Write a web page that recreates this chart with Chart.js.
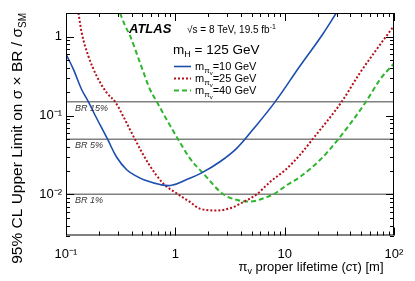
<!DOCTYPE html>
<html>
<head>
<meta charset="utf-8">
<title>pi_v lifetime limits</title>
<script src="https://cdn.jsdelivr.net/npm/chart.js@4.4.1/dist/chart.umd.min.js"></script>
<style>
  html, body { margin: 0; padding: 0; background: #fff; }
</style>
</head>
<body>
<canvas id="myChart" width="415" height="281"></canvas>
<script>
// values: pi_v proper lifetime [m] -> 95% CL limit on sigma x BR / sigma_SM
const lifetime10 = [0.1, 0.117, 0.139, 0.16, 0.185, 0.24, 0.291, 0.359, 0.44, 0.528, 0.724, 0.927, 1.27, 1.74, 2.56, 3.64, 5.1, 8.2, 13.8, 21.8, 30];
const limit10 = [0.60, 0.385, 0.214, 0.15, 0.10, 0.05, 0.0295, 0.0205, 0.0170, 0.0151, 0.0133, 0.0130, 0.0154, 0.0187, 0.0259, 0.0383, 0.0658, 0.15, 0.425, 1.03, 2.05];

const lifetime25 = [0.130, 0.139, 0.160, 0.191, 0.236, 0.281, 0.334, 0.427, 0.566, 0.776, 1.06, 1.36, 1.68, 2.39, 3.28, 4.19, 5.55, 7.35, 10.1, 13.8, 18.0, 33.3, 48.9, 69.5, 100];
const limit25 = [2.0, 1.13, 0.57, 0.316, 0.194, 0.15, 0.0975, 0.05, 0.0247, 0.0137, 0.0100, 0.0080, 0.00656, 0.00624, 0.00676, 0.0080, 0.0100, 0.01436, 0.0203, 0.0316, 0.05, 0.15, 0.349, 0.693, 1.38];

const lifetime40 = [0.312, 0.347, 0.385, 0.475, 0.587, 0.676, 0.834, 1.06, 1.36, 1.80, 2.75, 3.77, 4.82, 6.85, 7.9, 10.4, 13.8, 21.0, 30.9, 55.5, 74.5, 100];
const limit40 = [2.0, 1.38, 1.03, 0.469, 0.214, 0.15, 0.0884, 0.05, 0.0286, 0.0184, 0.0100, 0.0084, 0.0081, 0.0092, 0.0100, 0.0130, 0.0166, 0.0272, 0.05, 0.15, 0.287, 0.46];

const massLabels = ['10', '25', '40'];
const brLevels = [0.15, 0.05, 0.01];
const brLabels = ['BR 15%', 'BR 5%', 'BR 1%'];

const xRange = [0.1, 100];
const yRange = [0.003, 2];
const xMajorTicks = [0.1, 1, 10, 100];
const xTickLabels = ['10⁻¹', '1', '10', '10²'];
const yMajorTicks = [0.01, 0.1, 1];
const yTickLabels = ['10⁻²', '10⁻¹', '1'];

const FONT = '"Liberation Sans", Arial, Helvetica, sans-serif';

const toPoints = (xs, ys) => xs.map((x, i) => ({ x: x, y: ys[i] }));
const isDecade = (v) => Math.abs(Math.log10(v) - Math.round(Math.log10(v))) < 1e-6;

const labelFor = (majors, labels) => (value) => {
  const i = majors.findIndex(m => Math.abs(Math.log10(m) - Math.log10(value)) < 1e-6);
  return i >= 0 ? labels[i] : '';
};

// 1..9 x 10^n ticks inside the range
const logTicks = (scale) => {
  const out = [];
  for (let e = Math.floor(Math.log10(scale.min)); e <= Math.ceil(Math.log10(scale.max)); e++) {
    for (let k = 1; k < 10; k++) {
      const v = +(k * Math.pow(10, e)).toPrecision(6);
      if (v >= scale.min * 0.9999 && v <= scale.max * 1.0001) out.push({ value: v });
    }
  }
  scale.ticks = out;
};

const curves = [
  { data: toPoints(lifetime10, limit10), borderColor: '#1c4ead', borderWidth: 1.6, borderDash: [], tension: 0.4 },
  { data: toPoints(lifetime25, limit25), borderColor: '#b3121b', borderWidth: 2, borderDash: [2, 2], cubicInterpolationMode: 'monotone' },
  { data: toPoints(lifetime40, limit40), borderColor: '#2fb52f', borderWidth: 2, borderDash: [5, 3], cubicInterpolationMode: 'monotone' }
].map(ds => Object.assign(ds, { pointRadius: 0, fill: false, order: 1 }));

const brLines = brLevels.map(v => ({
  data: [{ x: xRange[0], y: v }, { x: xRange[1], y: v }],
  borderColor: '#808080', borderWidth: 1.5, pointRadius: 0, fill: false, order: 5
}));

// draw a run of text pieces (sub/superscripts), returns width
function drawParts(ctx, parts, x, y, measureOnly) {
  let cx = x;
  parts.forEach(([t, size, dy, style]) => {
    ctx.font = (style || '') + ' ' + size + 'px ' + FONT;
    if (!measureOnly) ctx.fillText(t, cx, y + dy);
    cx += ctx.measureText(t).width;
  });
  return cx - x;
}

const atlasDecor = {
  id: 'atlasDecor',
  afterDatasetsDraw(chart) {
    const { ctx, chartArea: a, scales: { x, y } } = chart;
    ctx.save();

    // frame + inward ticks on all four sides
    ctx.strokeStyle = '#000';
    ctx.lineWidth = 1;
    ctx.setLineDash([]);
    ctx.strokeRect(a.left + 0.5, a.top + 0.5, a.right - a.left - 1, a.bottom - a.top - 1);
    ctx.beginPath();
    x.ticks.forEach(t => {
      const px = Math.round(x.getPixelForValue(t.value)) + 0.5;
      const len = isDecade(t.value) ? 8 : 4;
      ctx.moveTo(px, a.bottom); ctx.lineTo(px, a.bottom - len);
      ctx.moveTo(px, a.top); ctx.lineTo(px, a.top + len);
    });
    y.ticks.forEach(t => {
      const py = Math.round(y.getPixelForValue(t.value)) + 0.5;
      const len = isDecade(t.value) ? 8 : 4;
      ctx.moveTo(a.left, py); ctx.lineTo(a.left + len, py);
      ctx.moveTo(a.right, py); ctx.lineTo(a.right - len, py);
    });
    ctx.stroke();

    ctx.textBaseline = 'alphabetic';
    ctx.textAlign = 'left';

    // BR reference line labels
    ctx.fillStyle = '#333';
    brLevels.forEach((v, i) => {
      ctx.font = 'italic 9px ' + FONT;
      ctx.fillText(brLabels[i], a.left + 9, y.getPixelForValue(v) + 9);
    });

    // ATLAS label and conditions
    ctx.fillStyle = '#000';
    ctx.font = 'italic bold 13px ' + FONT;
    ctx.fillText('ATLAS', 129, 33);
    drawParts(ctx, [['√s = 8 TeV, 19.5 fb', 10, 0], ['-1', 7, -4]], 187, 32.5);
    drawParts(ctx, [['m', 13.5, 0], ['H', 9, 3], [' = 125 GeV', 13.5, 0]], 173, 53.5);

    // legend
    const rows = [66.5, 78.5, 90.5];
    curves.forEach((ds, i) => {
      ctx.strokeStyle = ds.borderColor;
      ctx.lineWidth = ds.borderWidth;
      ctx.setLineDash(ds.borderDash);
      ctx.beginPath();
      ctx.moveTo(174, rows[i]);
      ctx.lineTo(191, rows[i]);
      ctx.stroke();
      drawParts(ctx, [['m', 11, 0], ['π', 8, 2.5], ['v', 6, 4.5], ['=' + massLabels[i] + ' GeV', 11, 0]], 195, rows[i] + 3.8);
    });
    ctx.setLineDash([]);

    // axis titles
    const xt = [['π', 13, 0], ['v', 9, 3], [' proper lifetime (', 13, 0], ['c', 13, 0, 'italic'], ['τ', 13, 0], [') [m]', 13, 0]];
    const wx = drawParts(ctx, xt, 0, 0, true);
    drawParts(ctx, xt, 383.5 - wx, 271);

    const yt = [['95% CL Upper Limit on σ × BR / σ', 15.5, 0], ['SM', 10, 4]];
    const wy = drawParts(ctx, yt, 0, 0, true);
    ctx.translate(21.5, 13);
    ctx.rotate(-Math.PI / 2);
    drawParts(ctx, yt, -wy, 0);

    ctx.restore();
  }
};

const myChart = new Chart(document.getElementById('myChart').getContext('2d'), {
  type: 'line',
  data: { datasets: curves.concat(brLines) },
  options: {
    responsive: false,
    devicePixelRatio: 1,
    animation: false,
    layout: { padding: { top: 13, right: 21, left: 0, bottom: 0 } },
    plugins: { legend: { display: false }, tooltip: { enabled: false } },
    scales: {
      x: {
        type: 'logarithmic',
        min: xRange[0],
        max: xRange[1],
        afterBuildTicks: logTicks,
        afterFit: (s) => { s.height = 45.5; },
        grid: { display: false, drawTicks: false },
        border: { display: false },
        ticks: {
          autoSkip: false, maxRotation: 0, padding: 11, color: '#000',
          font: { family: FONT, size: 13 },
          callback: labelFor(xMajorTicks, xTickLabels)
        }
      },
      y: {
        type: 'logarithmic',
        min: yRange[0],
        max: yRange[1],
        afterBuildTicks: logTicks,
        afterFit: (s) => { s.width = 66; },
        grid: { display: false, drawTicks: false },
        border: { display: false },
        ticks: {
          autoSkip: false, padding: 4, color: '#000',
          font: { family: FONT, size: 13 },
          callback: labelFor(yMajorTicks, yTickLabels)
        }
      }
    }
  },
  plugins: [atlasDecor]
});
</script>
</body>
</html>
